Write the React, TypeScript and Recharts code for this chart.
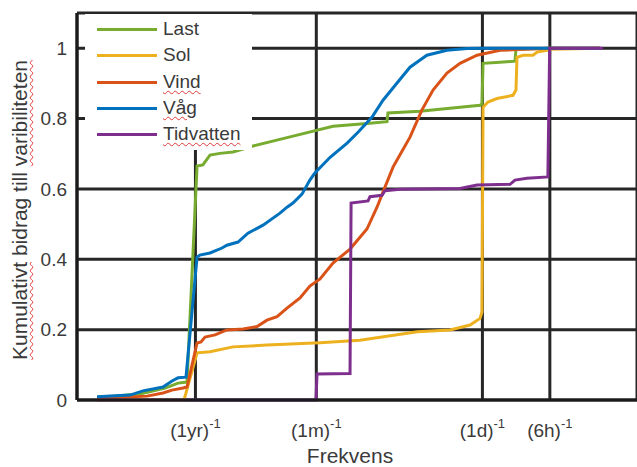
import { LineChart, Line, XAxis, YAxis, CartesianGrid, Legend } from "recharts";

const FONT = "'Liberation Sans', Arial, sans-serif";
const TEXT = "#3a3a3a";

const seriesNames = ["Last", "Sol", "Vind", "Våg", "Tidvatten"];
const seriesColors = ["#77AC30", "#EDB120", "#D95319", "#0072BD", "#7E2F8E"];
const misspelled = ["Vind", "Våg", "Tidvatten"];

// [frekvens (1/h), kumulativt bidrag]
const last = [
  [1.51e-5, 0.007], [3.65e-5, 0.017], [6.11e-5, 0.034], [7.98e-5, 0.048], [9.6e-5, 0.051],
  [1.18e-4, 0.665], [1.33e-4, 0.668], [1.54e-4, 0.696], [1.89e-4, 0.701], [2.47e-4, 0.705],
  [3.73e-4, 0.722], [7.98e-4, 0.748], [1.93e-3, 0.778], [3.88e-3, 0.786], [5.86e-3, 0.791],
  [5.98e-3, 0.816], [1.15e-2, 0.821], [2.14e-2, 0.829], [3.97e-2, 0.838], [4.13e-2, 0.841],
  [4.22e-2, 0.957], [5.98e-2, 0.96], [8.14e-2, 0.963], [8.31e-2, 0.997], [0.167, 1], [0.467, 1],
];

const sol = [
  [1.51e-5, 0], [9.03e-5, 0], [1.18e-4, 0.134], [1.54e-4, 0.137], [2.47e-4, 0.151],
  [4.97e-4, 0.156], [1.48e-3, 0.163], [3.36e-3, 0.17], [1.09e-2, 0.194], [2.14e-2, 0.199],
  [3.23e-2, 0.213], [3.97e-2, 0.232], [4.13e-2, 0.25], [4.22e-2, 0.832], [4.67e-2, 0.847],
  [5.62e-2, 0.857], [7.81e-2, 0.866], [8.31e-2, 0.881], [8.48e-2, 0.974], [9.6e-2, 0.98],
  [0.118, 0.98], [0.128, 0.989], [0.157, 0.994], [0.167, 0.997], [0.467, 1],
];

const vind = [
  [1.51e-5, 0.004], [4.22e-5, 0.011], [5.86e-5, 0.02], [7.05e-5, 0.028], [8.84e-5, 0.034],
  [9.6e-5, 0.037], [1.18e-4, 0.162], [1.28e-4, 0.165], [1.39e-4, 0.179], [1.71e-4, 0.185],
  [2.18e-4, 0.199], [3.04e-4, 0.202], [4.05e-4, 0.209], [4.97e-4, 0.227], [6.11e-4, 0.237],
  [7.5e-4, 0.261], [9.8e-4, 0.29], [1.2e-3, 0.324], [1.48e-3, 0.344], [1.93e-3, 0.389],
  [2.74e-3, 0.429], [3.88e-3, 0.486], [4.77e-3, 0.548], [5.62e-3, 0.605], [6.63e-3, 0.662],
  [7.2e-3, 0.682], [9.4e-3, 0.747], [1.2e-2, 0.824], [1.51e-2, 0.881], [2.01e-2, 0.929],
  [2.63e-2, 0.957], [3.73e-2, 0.98], [5.98e-2, 0.994], [8.48e-2, 0.996], [0.167, 1], [0.467, 1],
];

const vag = [
  [1.51e-5, 0.009], [2.97e-5, 0.014], [3.88e-5, 0.026], [5.86e-5, 0.037], [7.05e-5, 0.054],
  [7.98e-5, 0.063], [9.4e-5, 0.065], [1.18e-4, 0.406], [1.25e-4, 0.412], [1.54e-4, 0.418],
  [1.97e-4, 0.432], [2.18e-4, 0.44], [2.74e-4, 0.449], [3.36e-4, 0.474], [4.58e-4, 0.497],
  [6.49e-4, 0.531], [7.5e-4, 0.548], [8.48e-4, 0.56], [1.02e-3, 0.585], [1.2e-3, 0.625],
  [1.33e-3, 0.645], [1.82e-3, 0.69], [2.58e-3, 0.73], [3.23e-3, 0.761], [4.31e-3, 0.804],
  [5.4e-3, 0.852], [7.2e-3, 0.901], [9.4e-3, 0.946], [1.33e-2, 0.98], [2.01e-2, 0.994],
  [3.04e-2, 0.999], [4.22e-2, 1], [0.467, 1],
];

const tidvatten = [
  [1.51e-5, 0], [1.36e-3, 0], [1.39e-3, 0.074], [2.74e-3, 0.075], [2.8e-3, 0.56],
  [3.97e-3, 0.566], [4.13e-3, 0.578], [5.29e-3, 0.582], [5.62e-3, 0.595], [7.65e-3, 0.599],
  [2.63e-2, 0.601], [3.73e-2, 0.611], [7.35e-2, 0.613], [8.14e-2, 0.625], [0.104, 0.63],
  [0.16, 0.634], [0.166, 1], [0.497, 1],
];

const seriesData = [last, sol, vind, vag, tidvatten];

const tickFreqs = [1 / 8760, 1 / 730, 1 / 24, 1 / 6];
const tickNames = ["(1yr)", "(1m)", "(1d)", "(6h)"];
const yTicks = [0, 0.2, 0.4, 0.6, 0.8, 1];

const wavy = {
  textDecoration: "underline wavy #e03a3a",
  textDecorationThickness: "1px",
  textUnderlineOffset: "2px",
};

function FreqTick(props: any) {
  const { x, payload } = props;
  const i = tickFreqs.findIndex((t) => Math.abs(t - payload.value) < 1e-9);
  return (
    <text x={x} y={437} textAnchor="middle" fill={TEXT} fontSize={19} fontFamily={FONT}>
      <tspan>{tickNames[i]}</tspan>
      <tspan dy={-9} fontSize={13}>-1</tspan>
    </text>
  );
}

function LegendBox() {
  return (
    <div style={{ position: "relative", width: 167, height: 136, background: "#fff" }}>
      {seriesNames.map((name, i) => (
        <div key={name}>
          <div
            style={{
              position: "absolute",
              left: 12,
              top: 14 + i * 26.3,
              width: 60,
              height: 3,
              background: seriesColors[i],
            }}
          />
          <div
            style={{
              position: "absolute",
              left: 78,
              top: 4 + i * 26.3,
              fontSize: 19,
              lineHeight: "22px",
              fontFamily: FONT,
              color: TEXT,
              whiteSpace: "nowrap",
              ...(misspelled.includes(name) ? wavy : {}),
            }}
          >
            {name}
          </div>
        </div>
      ))}
    </div>
  );
}

export default function App() {
  return (
    <div style={{ position: "absolute", left: 0, top: 0, width: 637, height: 467, background: "#fff" }}>
      <LineChart width={637} height={467} margin={{ top: 13, right: 0, bottom: 0, left: 0 }}>
        <CartesianGrid stroke="#262626" strokeWidth={3} />
        <XAxis
          dataKey="f"
          type="number"
          scale="log"
          domain={[1e-5, 1]}
          allowDataOverflow
          ticks={tickFreqs}
          interval={0}
          tick={<FreqTick />}
          tickLine={false}
          axisLine={{ stroke: "#1a1a1a", strokeWidth: 3 }}
          height={67}
          label={{
            content: () => (
              <text x={350} y={463} textAnchor="middle" fill={TEXT} fontSize={21} fontFamily={FONT}>
                Frekvens
              </text>
            ),
          }}
        />
        <YAxis
          type="number"
          domain={[0, 1.1]}
          ticks={yTicks}
          interval={0}
          width={77}
          tickSize={0}
          tickMargin={10}
          tickLine={false}
          axisLine={{ stroke: "#1a1a1a", strokeWidth: 3 }}
          tick={{ fill: TEXT, fontSize: 19, fontFamily: FONT }}
        />
        <Legend
          layout="vertical"
          align="center"
          verticalAlign="middle"
          wrapperStyle={{ left: 85, top: 14, width: 167, height: 136 }}
          content={() => <LegendBox />}
        />
        {seriesNames.map((name, i) => (
          <Line
            key={name}
            name={name}
            data={seriesData[i].map(([f, v]) => ({ f, v }))}
            dataKey="v"
            type="linear"
            stroke={seriesColors[i]}
            strokeWidth={3}
            dot={false}
            activeDot={false}
            isAnimationActive={false}
          />
        ))}
      </LineChart>
      <div
        style={{
          position: "absolute",
          left: 20 - 170,
          top: 210 - 12,
          width: 340,
          height: 24,
          lineHeight: "24px",
          textAlign: "center",
          transform: "rotate(-90deg)",
          fontSize: 21,
          fontFamily: FONT,
          color: TEXT,
          whiteSpace: "nowrap",
        }}
      >
        <span style={wavy}>Kumulativt</span> bidrag till <span style={wavy}>varibiliteten</span>
      </div>
    </div>
  );
}
